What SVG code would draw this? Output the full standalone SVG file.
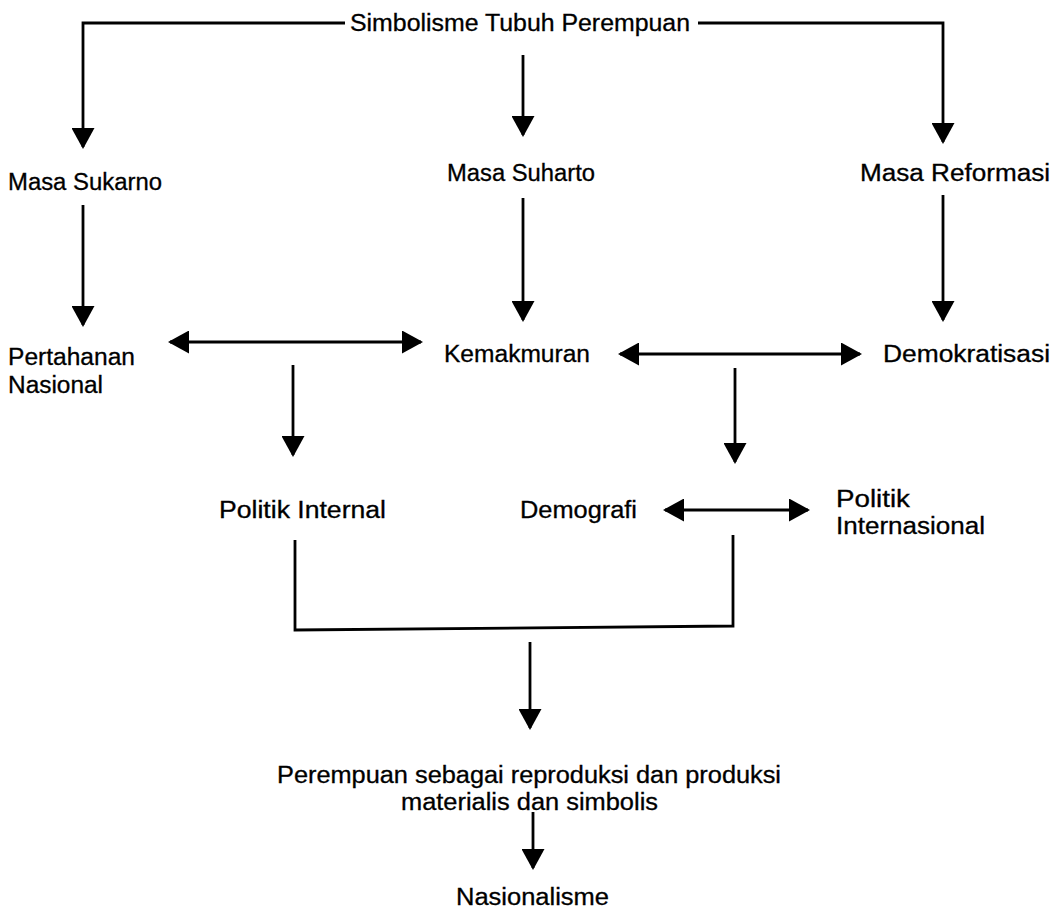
<svg xmlns="http://www.w3.org/2000/svg" width="1054" height="913" viewBox="0 0 1054 913">
<style>
text{font-family:"Liberation Sans",Arial,sans-serif;font-size:23px;fill:#000;stroke:#000;stroke-width:0.3}
.c{fill:none;stroke:#000;stroke-width:2.8}
.a{marker-end:url(#ah)}
.d{marker-start:url(#ah);marker-end:url(#ah)}
</style>
<defs>
<marker id="ah" markerUnits="userSpaceOnUse" markerWidth="21" markerHeight="23" refX="19" refY="11.5" orient="auto-start-reverse" viewBox="0 0 21 23">
<path d="M0,0 L21,11.5 L0,23 z" fill="#000"/>
</marker>
</defs>
<rect width="1054" height="913" fill="#fff"/>
<g id="connectors">
<path class="c a" d="M345,23 H83 V147"/>
<path class="c a" d="M698,23 H943 V142"/>
<path class="c a" d="M523,55 V135"/>
<path class="c a" d="M83,205 V325"/>
<path class="c a" d="M523,198 V320"/>
<path class="c a" d="M943,195 V320"/>
<path class="c d" d="M170,342 H421"/>
<path class="c d" d="M620,354 H860"/>
<path class="c a" d="M293,365 V455"/>
<path class="c a" d="M735,368 V462"/>
<path class="c d" d="M665,510 H808"/>
<path class="c" d="M295,540 V630 L733,626 V535"/>
<path class="c a" d="M530,642 V728"/>
<path class="c a" d="M533,812 V868"/>
</g>
<g id="n-simbolisme"><text x="350" y="31" textLength="340" lengthAdjust="spacingAndGlyphs">Simbolisme Tubuh Perempuan</text></g>
<g id="n-sukarno"><text x="8" y="190" textLength="154" lengthAdjust="spacingAndGlyphs">Masa Sukarno</text></g>
<g id="n-suharto"><text x="447" y="181" textLength="148" lengthAdjust="spacingAndGlyphs">Masa Suharto</text></g>
<g id="n-reformasi"><text x="860" y="181" textLength="190" lengthAdjust="spacingAndGlyphs">Masa Reformasi</text></g>
<g id="n-pertahanan"><text x="8" y="365" textLength="127" lengthAdjust="spacingAndGlyphs">Pertahanan</text><text x="8" y="393" textLength="95" lengthAdjust="spacingAndGlyphs">Nasional</text></g>
<g id="n-kemakmuran"><text x="444" y="362" textLength="146" lengthAdjust="spacingAndGlyphs">Kemakmuran</text></g>
<g id="n-demokratisasi"><text x="883" y="362" textLength="167" lengthAdjust="spacingAndGlyphs">Demokratisasi</text></g>
<g id="n-politik-internal"><text x="219" y="518" textLength="167" lengthAdjust="spacingAndGlyphs">Politik Internal</text></g>
<g id="n-demografi"><text x="520" y="518" textLength="117" lengthAdjust="spacingAndGlyphs">Demografi</text></g>
<g id="n-politik-internasional"><text x="836" y="507" textLength="74" lengthAdjust="spacingAndGlyphs">Politik</text><text x="836" y="534" textLength="149" lengthAdjust="spacingAndGlyphs">Internasional</text></g>
<g id="n-perempuan"><text x="277" y="783" textLength="504" lengthAdjust="spacingAndGlyphs">Perempuan sebagai reproduksi dan produksi</text><text x="401" y="810" textLength="257" lengthAdjust="spacingAndGlyphs">materialis dan simbolis</text></g>
<g id="n-nasionalisme"><text x="456" y="905" textLength="153" lengthAdjust="spacingAndGlyphs">Nasionalisme</text></g>
</svg>
